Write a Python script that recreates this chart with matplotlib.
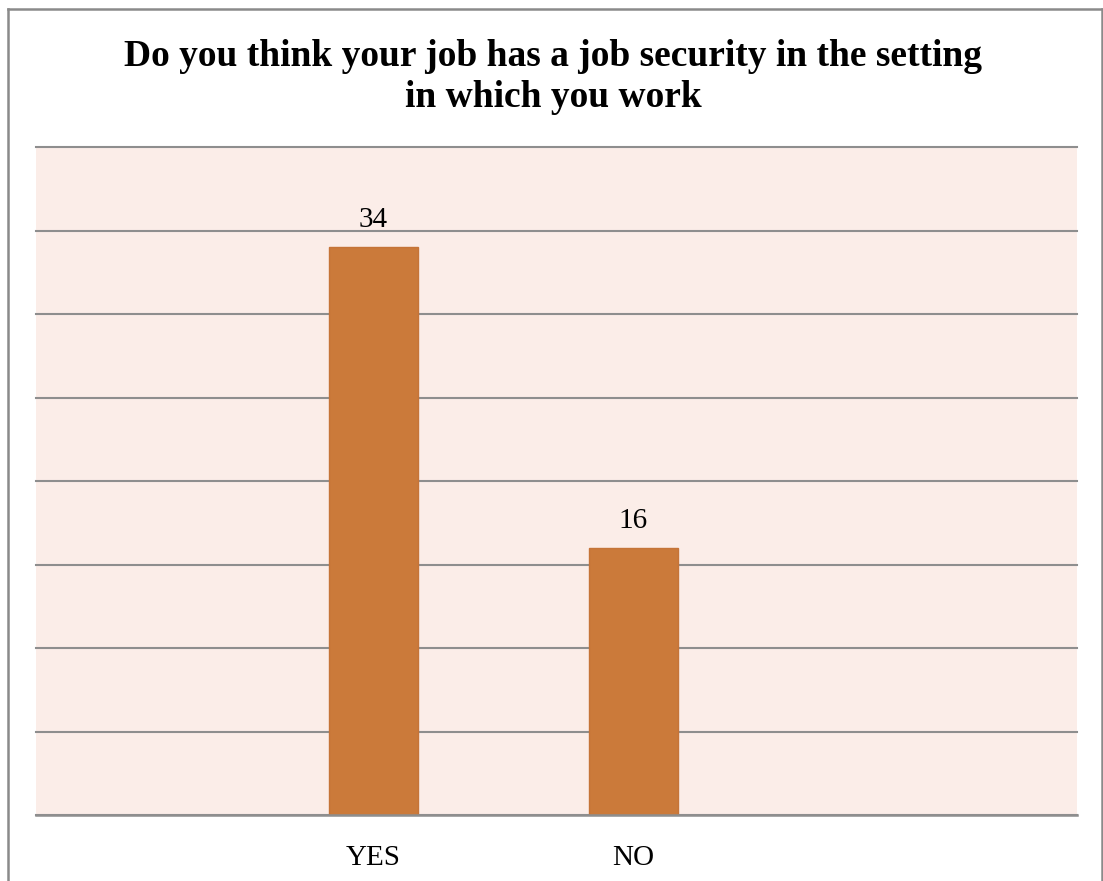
import matplotlib
matplotlib.use("Agg")
import matplotlib.pyplot as plt
from matplotlib.lines import Line2D

categories = ["YES", "NO"]
counts = [34, 16]
title = "Do you think your job has a job security in the setting\nin which you work"

W, H, DPI = 1103, 881, 100
fig = plt.figure(figsize=(W / DPI, H / DPI), dpi=DPI)
fig.patch.set_facecolor("white")

serif = ["Liberation Serif", "DejaVu Serif"]

ax = fig.add_axes([36 / W, (H - 815) / H, (1077 - 36) / W, (815 - 147) / H])
ax.set_facecolor("#FBEDE8")

x = list(range(len(categories)))
bars = ax.bar(x, counts, width=0.34, color="#CB7A3A", edgecolor="#C57438",
              linewidth=1.0, zorder=3)

ax.set_xlim(-1.298, 2.706)
ax.set_ylim(0, 40)
ax.set_yticks(range(0, 41, 5))
ax.yaxis.grid(True, color="#8E8E8E", linewidth=1.5, zorder=1)
for gl in ax.get_ygridlines():
    gl.set_clip_on(False)
ax.set_axisbelow(True)
ax.tick_params(axis="y", left=False, labelleft=False)
ax.tick_params(axis="x", bottom=False, pad=18, labelsize=21)
ax.set_xticks(x)
ax.set_xticklabels(categories, fontfamily=serif)

for side in ("left", "right", "top"):
    ax.spines[side].set_visible(False)
ax.spines["bottom"].set_color("#8E8E8E")
ax.spines["bottom"].set_linewidth(1.8)
ax.spines["bottom"].set_zorder(4)

for b, v in zip(bars, counts):
    ax.annotate(str(v), (b.get_x() + b.get_width() / 2, v),
                xytext=(0, 10), textcoords="offset points",
                ha="center", va="bottom", fontsize=21, fontfamily=serif)

fig.text(0.5 + 2 / W, 1 - 77 / H, title, ha="center", va="center",
         fontsize=27, fontweight="bold", fontfamily=serif, linespacing=1.2)

# outer frame of the chart
frame_kw = dict(color="#8A8A8A", linewidth=1.8)
fig.add_artist(Line2D([7.5 / W, 7.5 / W], [0, 1 - 8.5 / H], **frame_kw))
fig.add_artist(Line2D([7.5 / W, 1102 / W], [1 - 8.5 / H, 1 - 8.5 / H], **frame_kw))
fig.add_artist(Line2D([1102 / W, 1102 / W], [0, 1 - 8.5 / H], **frame_kw))

fig.savefig("out.png", dpi=DPI)
